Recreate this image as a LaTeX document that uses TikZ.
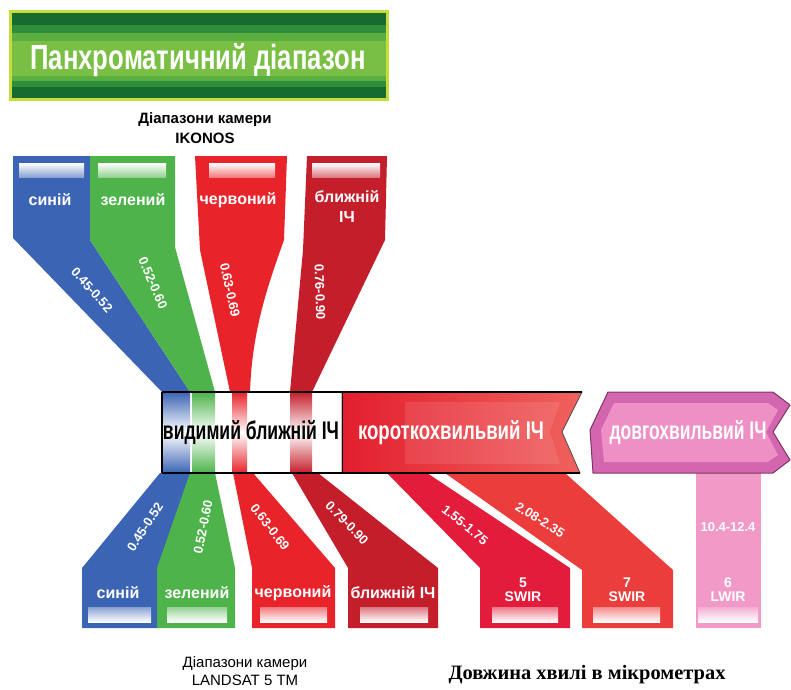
\documentclass[tikz,border=0pt]{standalone}
\usepackage{fontspec}
\setmainfont{Liberation Sans}
\newfontfamily\serifface{Liberation Serif}
\definecolor{cblue}{HTML}{3B64B4}
\definecolor{cgreen}{HTML}{4DB34A}
\definecolor{cred}{HTML}{E8232A}
\definecolor{cdred}{HTML}{C41E2B}
\definecolor{cswa}{HTML}{E31C3C}
\definecolor{cswb}{HTML}{EB3D3C}
\definecolor{cpink}{HTML}{F29AC7}
\definecolor{cmag}{HTML}{D466AF}
\definecolor{cmaglight}{HTML}{EE90C6}
\definecolor{cmagdark}{HTML}{7B3563}
\definecolor{gdark}{HTML}{186B2F}
\definecolor{gmid}{HTML}{2F8E3A}
\definecolor{glight}{HTML}{5BAE40}
\definecolor{gcenter}{HTML}{78BF43}
\definecolor{gborder}{HTML}{C6DC3A}
\definecolor{swleft}{HTML}{E31E2E}
\definecolor{swright}{HTML}{F0625E}
\tikzset{
  bandlabel/.style={text=white,font=\bfseries\fontsize{16}{20}\selectfont,inner sep=0pt,align=center},
  numlabel/.style={text=white,font=\bfseries\fontsize{13}{15}\selectfont,inner sep=0pt},
  swlabel/.style={text=white,font=\bfseries\fontsize{14}{14}\selectfont,inner sep=0pt,align=center},
  caption/.style={text=black,inner sep=0pt,align=center},
  ribbontext/.style={inner sep=0pt},
}
\begin{document}
\begin{tikzpicture}[x=1pt,y=-1pt]
\useasboundingbox (0,0) rectangle (791,689);
% ---------- banner ----------
\fill[gborder] (9,10) rectangle (389,101);
\fill[gdark] (12,13) rectangle (386,98);
\fill[gmid] (12,25) rectangle (386,87);
\fill[glight] (12,33) rectangle (386,81);
\fill[gcenter] (12,41) rectangle (386,76);
\node[ribbontext,text=white] (banner) at (198,60)
  {\resizebox{335pt}{26pt}{\bfseries Панхроматичний діапазон}};
% ---------- IKONOS caption ----------
\node[caption,font=\bfseries\fontsize{15}{20}\selectfont] (ikonos) at (205,128) {Діапазони камери\\IKONOS};
% ---------- top funnels ----------
\fill[cblue] (13,156) -- (90,156) -- (90,240) -- (190,392) -- (162,392) -- (13,238) -- cycle;
\fill[cgreen] (90,156) -- (175,156) -- (175,247) -- (215,392) -- (190,392) -- (90,240) -- cycle;
\fill[cred] (195,156) -- (287,156) -- (284,240) .. controls (268,285) and (252,330) .. (250,392)
   -- (230,392) -- (200,250) -- cycle;
\fill[cdred] (307,156) -- (387,156) -- (385,240) -- (312,392) -- (290,392) -- (303,250) -- cycle;
% label bars (top)
\fill[top color=white,bottom color=cblue!60] (19,163) rectangle (84,177);
\fill[top color=white,bottom color=cgreen!60] (98,163) rectangle (166,177);
\fill[top color=white,bottom color=cred!60] (209,163) rectangle (275,177);
\fill[top color=white,bottom color=cdred!60] (312,163) rectangle (380,177);
\node[bandlabel] (tblue) at (50,200) {синій};
\node[bandlabel] (tgreen) at (133,200) {зелений};
\node[bandlabel] (tred) at (238,200) {червоний};
\node[bandlabel] (tnir) at (347,207) {ближній\\ІЧ};
\node[numlabel,rotate=-48] (tn1) at (92,290) {0.45-0.52};
\node[numlabel,rotate=-67] (tn2) at (153,283) {0.52-0.60};
\node[numlabel,rotate=-78] (tn3) at (230,290) {0.63-0.69};
\node[numlabel,rotate=-88] (tn4) at (320,292) {0.76-0.90};
% ---------- bottom funnels ----------
\fill[cblue] (160,473) -- (192,473) -- (159,568) -- (159,628) -- (82,628) -- (82,568) -- cycle;
\fill[cgreen] (190,473) -- (215,473) -- (235,568) -- (235,628) -- (157,628) -- (157,568) -- cycle;
\fill[cred] (233,473) -- (253,473) -- (335,568) -- (335,628) -- (252,628) -- (252,568) -- cycle;
\fill[cdred] (292,473) -- (318,473) -- (438,568) -- (438,628) -- (348,628) -- (348,568) -- cycle;
\fill[cswa] (387,473) -- (427,473) -- (570,568) -- (570,628) -- (480,628) -- (480,568) -- cycle;
\fill[cswb] (445,473) -- (565,473) -- (673,570) -- (673,628) -- (582,628) -- (582,570) -- cycle;
\fill[cpink] (696,473) rectangle (761,628);
% label bars (bottom)
\fill[bottom color=white,top color=cblue!60] (88,607) rectangle (151,622);
\fill[bottom color=white,top color=cgreen!60] (167,607) rectangle (227,622);
\fill[bottom color=white,top color=cred!60] (260,607) rectangle (327,622);
\fill[bottom color=white,top color=cdred!60] (360,607) rectangle (428,622);
\fill[bottom color=white,top color=cswa!60] (492,607) rectangle (558,622);
\fill[bottom color=white,top color=cswb!60] (593,607) rectangle (660,622);
\fill[bottom color=white,top color=cpink!80] (698,607) rectangle (758,622);
\node[bandlabel] (bblue) at (118,593) {синій};
\node[bandlabel] (bgreen) at (197,593) {зелений};
\node[bandlabel] (bred) at (293,593) {червоний};
\node[bandlabel] (bnir) at (393,593) {ближній ІЧ};
\node[swlabel] (b5) at (523,590) {5\\SWIR};
\node[swlabel] (b7) at (627,590) {7\\SWIR};
\node[swlabel] (b6) at (728,590) {6\\LWIR};
\node[numlabel,rotate=57] (bn1) at (145,527) {0.45-0.52};
\node[numlabel,rotate=79] (bn2) at (203,527) {0.52-0.60};
\node[numlabel,rotate=-52] (bn3) at (270,527) {0.63-0.69};
\node[numlabel,rotate=-46] (bn4) at (347,523) {0.79-0.90};
\node[numlabel,rotate=-39] (bn5) at (465,525) {1.55-1.75};
\node[numlabel,rotate=-32] (bn7) at (540,520) {2.08-2.35};
\node[numlabel] (bn6) at (728,527) {10.4-12.4};
% ---------- middle ribbons ----------
\fill[white] (162,392) rectangle (342,473);
\fill[top color=cblue,bottom color=cblue,middle color=white] (163,392) rectangle (190,473);
\fill[top color=cgreen,bottom color=cgreen,middle color=white] (192,392) rectangle (215,473);
\fill[top color=cred,bottom color=cred,middle color=white] (232,392) rectangle (247,473);
\fill[top color=cdred,bottom color=cdred,middle color=white] (290,392) rectangle (312,473);
\path[left color=swleft,right color=swright,draw=black!70,line width=0.8pt]
  (342,392) -- (582,392) -- (562,432) -- (580,473) -- (342,473) -- cycle;
\fill[white,opacity=0.10] (405,402) -- (560,402) -- (550,432) -- (560,464) -- (405,464) -- cycle;
\draw[line width=1.4pt] (162,392) -- (582,392);
\draw[line width=1.4pt] (162,473) -- (580,473);
\draw[line width=1.4pt] (162,392) -- (162,473);
\draw[line width=1pt] (342,392) -- (342,473);
\path[fill=cmag,draw=cmagdark,line width=1pt]
  (608,392) -- (773,392) -- (790,405) -- (773,432) -- (790,460) -- (773,473) -- (593,473) -- (590,430) -- cycle;
\fill[cmaglight] (614,403) -- (768,403) -- (778,410) -- (766,432) -- (778,455) -- (768,462) -- (604,462) -- (601,430) -- cycle;
\node[ribbontext] (vis) at (251,433) {\resizebox{176pt}{19pt}{\bfseries видимий ближній ІЧ}};
\node[ribbontext,text=white] (swir) at (451,433) {\resizebox{186pt}{19pt}{\bfseries короткохвильвий ІЧ}};
\node[ribbontext,text=white] (lwir) at (688,433) {\resizebox{157pt}{19pt}{\bfseries довгохвильвий ІЧ}};
% ---------- bottom captions ----------
\node[caption,font=\fontsize{15}{18}\selectfont] (landsat) at (245,671) {Діапазони камери\\LANDSAT 5 TM};
\node[caption] (wl) at (587,675) {\resizebox{277pt}{!}{\serifface\bfseries Довжина хвилі в мікрометрах}};
\end{tikzpicture}
\end{document}
